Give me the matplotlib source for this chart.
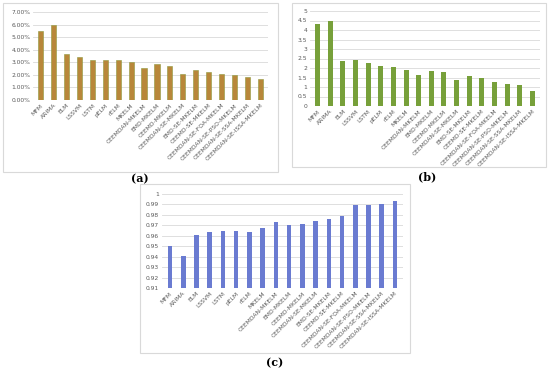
import numpy as np
import matplotlib.pyplot as plt
from matplotlib.patches import Rectangle
from matplotlib.ticker import PercentFormatter

models = ['MFM', 'ARIMA', 'ELM', 'LSSVM', 'LSTM', 'pELM', 'rELM', 'MKELM',
          'CEEMDAN-MKELM', 'EMD-MKELM', 'CEEMD-MKELM', 'CEEMDAN-SE-MKELM',
          'EMD-SE-MKELM', 'CEEMD-SE-MKELM', 'CEEMDAN-SE-FOA-MKELM',
          'CEEMDAN-SE-PSO-MKELM', 'CEEMDAN-SE-SSA-MKELM', 'CEEMDAN-SE-ISSA-MKELM']

# (a) percentage error
vals_a = [5.45, 6.00, 3.65, 3.42, 3.22, 3.18, 3.17, 3.00, 2.55, 2.85, 2.72,
          2.05, 2.35, 2.20, 2.03, 1.97, 1.83, 1.65]
# (b)
vals_b = [4.30, 4.50, 2.38, 2.40, 2.27, 2.08, 2.03, 1.90, 1.62, 1.83, 1.77,
          1.38, 1.58, 1.45, 1.25, 1.15, 1.08, 0.77]
# (c)
vals_c = [0.950, 0.941, 0.961, 0.9635, 0.965, 0.9645, 0.964, 0.9675, 0.973,
          0.970, 0.971, 0.9745, 0.9765, 0.9788, 0.989, 0.9893, 0.990, 0.9932]

W, H = 550, 373
fig = plt.figure(figsize=(W / 100, H / 100), dpi=100)

def px_axes(x0, y0, x1, y1):
    return fig.add_axes([x0 / W, 1 - y1 / H, (x1 - x0) / W, (y1 - y0) / H])

def frame(x0, y0, x1, y1):
    fig.patches.append(Rectangle((x0 / W, 1 - y1 / H), (x1 - x0) / W, (y1 - y0) / H,
                                 transform=fig.transFigure, fill=False,
                                 edgecolor='#D9D9D9', linewidth=0.8))

def style(ax, ymin, ymax, step):
    ax.set_ylim(ymin, ymax)
    ax.set_yticks(np.arange(ymin, ymax + step / 2, step))
    ax.set_xlim(-0.6, len(models) - 0.4)
    ax.set_xticks(range(len(models)))
    ax.set_xticklabels(models, rotation=45, ha='right', rotation_mode='anchor')
    ax.tick_params(length=0, labelsize=4.3, colors='#595959', pad=2)
    for s in ax.spines.values():
        s.set_visible(False)
    ax.grid(axis='y', color='#D9D9D9', linewidth=0.6)
    ax.set_axisbelow(True)

x = np.arange(len(models))

frame(3, 3, 278, 172)
ax1 = px_axes(33, 12, 268, 100)
ax1.bar(x, vals_a, width=0.4, color='#B8873A', edgecolor='#8F9A3C', linewidth=0.4)
style(ax1, 0, 7, 1)
ax1.yaxis.set_major_formatter(PercentFormatter(decimals=2))
fig.text(140 / W, 1 - 179 / H, '(a)', ha='center', va='center',
         fontsize=8, fontweight='bold', family='DejaVu Serif')

frame(292, 3, 546, 167)
ax2 = px_axes(310, 11, 540, 106)
ax2.bar(x, vals_b, width=0.4, color='#77A03A')
style(ax2, 0, 5, 0.5)
ax2.set_yticklabels(['0', '0.5', '1', '1.5', '2', '2.5', '3', '3.5', '4', '4.5', '5'])
fig.text(427 / W, 1 - 177 / H, '(b)', ha='center', va='center',
         fontsize=8, fontweight='bold', family='DejaVu Serif')

frame(140, 184, 410, 353)
ax3 = px_axes(162, 194, 403, 288)
ax3.bar(x, vals_c, width=0.35, color='#6A7BD1')
style(ax3, 0.91, 1.0, 0.01)
ax3.set_yticklabels(['0.91', '0.92', '0.93', '0.94', '0.95', '0.96', '0.97',
                     '0.98', '0.99', '1'])
fig.text(275 / W, 1 - 363 / H, '(c)', ha='center', va='center',
         fontsize=8, fontweight='bold', family='DejaVu Serif')

fig.savefig('out.png', dpi=100)
